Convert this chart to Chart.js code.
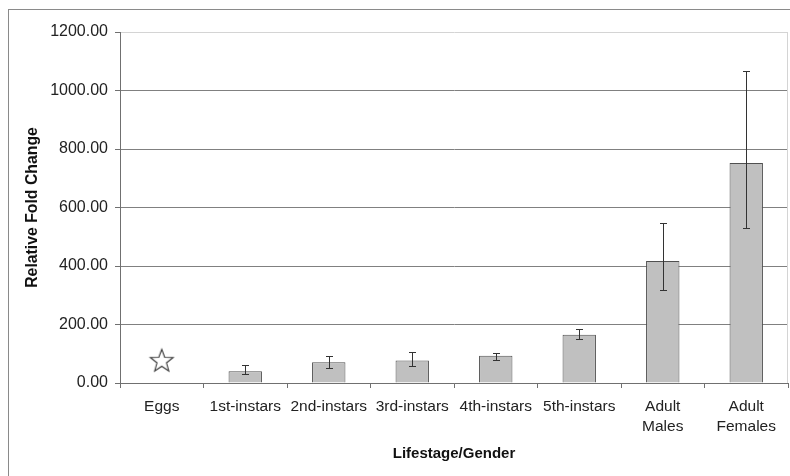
<!DOCTYPE html>
<html>
<head>
<meta charset="utf-8">
<script src="https://cdn.jsdelivr.net/npm/chart.js@4"></script>
<style>
html,body{margin:0;padding:0;background:#fff;}
#wrap{position:relative;width:790px;height:476px;}
</style>
</head>
<body>
<div id="wrap"><canvas id="c" width="790" height="476"></canvas></div>
<script>
const categories = ['Eggs', '1st-instars', '2nd-instars', '3rd-instars', '4th-instars', '5th-instars', ['Adult', 'Males'], ['Adult', 'Females']];
const foldChange = [null, 40, 71, 77, 93, 165, 417, 752];
const errHigh = [null, 61, 93, 105, 101, 186, 547, 1068];
const errLow = [null, 30, 50, 59, 80, 149, 319, 529];
const eggsMarker = [76, null, null, null, null, null, null, null];
const yTicks = [0, 200, 400, 600, 800, 1000, 1200];

const FONT = '"Liberation Sans", Arial, sans-serif';

// star marker image
const star = document.createElement('canvas');
star.width = 28; star.height = 28;
(function(){
  const g = star.getContext('2d');
  const cx = 14, cy = 14.5, R = 12, r = 5;
  g.beginPath();
  for (let i = 0; i < 10; i++) {
    const a = -Math.PI / 2 + i * Math.PI / 5;
    const rad = i % 2 === 0 ? R : r;
    const x = cx + rad * Math.cos(a), y = cy + rad * Math.sin(a);
    if (i === 0) g.moveTo(x, y); else g.lineTo(x, y);
  }
  g.closePath();
  g.fillStyle = '#ffffff';
  g.fill();
  g.strokeStyle = '#333333';
  g.lineWidth = 1.1;
  g.stroke();
})();

const framePlugin = {
  id: 'frame',
  beforeDraw(chart) {
    const ctx = chart.ctx;
    ctx.save();
    ctx.fillStyle = '#ffffff';
    ctx.fillRect(0, 0, chart.width, chart.height);
    ctx.strokeStyle = '#8a8a8a';
    ctx.lineWidth = 1;
    ctx.strokeRect(8.5, 9.5, 900, 600);
    ctx.restore();
  },
  afterDraw(chart) {
    const ctx = chart.ctx, a = chart.chartArea;
    ctx.save();
    ctx.strokeStyle = '#d4d4d4';
    ctx.lineWidth = 1;
    ctx.beginPath();
    ctx.moveTo(a.right - 0.5, a.top);
    ctx.lineTo(a.right - 0.5, a.bottom);
    ctx.stroke();
    ctx.restore();
  }
};

const errorBarPlugin = {
  id: 'errbars',
  afterDatasetsDraw(chart) {
    const ctx = chart.ctx;
    const meta = chart.getDatasetMeta(0);
    const y = chart.scales.y;
    ctx.save();
    ctx.strokeStyle = '#333333';
    ctx.lineWidth = 1;
    meta.data.forEach((bar, i) => {
      if (errHigh[i] == null || foldChange[i] == null) return;
      const x = Math.round(bar.x) + 0.5;
      const yh = Math.round(y.getPixelForValue(errHigh[i])) + 0.5;
      const yl = Math.round(y.getPixelForValue(errLow[i])) + 0.5;
      ctx.beginPath();
      ctx.moveTo(x, yh); ctx.lineTo(x, yl);
      ctx.moveTo(x - 3.5, yh); ctx.lineTo(x + 3.5, yh);
      ctx.moveTo(x - 3.5, yl); ctx.lineTo(x + 3.5, yl);
      ctx.stroke();
    });
    ctx.restore();
  }
};

new Chart(document.getElementById('c'), {
  type: 'bar',
  data: {
    labels: categories,
    datasets: [
      {
        type: 'bar',
        data: foldChange,
        backgroundColor: '#c0c0c0',
        borderColor: '#505050',
        borderWidth: 1,
        borderSkipped: 'bottom',
        barPercentage: 0.4,
        categoryPercentage: 1.0,
        order: 2
      },
      {
        type: 'line',
        data: eggsMarker,
        showLine: false,
        pointStyle: star,
        pointRadius: 12,
        clip: false,
        order: 1
      }
    ]
  },
  options: {
    responsive: false,
    animation: false,
    devicePixelRatio: 1,
    layout: { autoPadding: false, padding: { left: 0, top: 32, right: 2, bottom: 0 } },
    plugins: {
      legend: { display: false },
      tooltip: { enabled: false }
    },
    scales: {
      x: {
        offset: true,
        afterFit(s) { s.height = 93; s.paddingLeft = 0; s.paddingRight = 0; },
        grid: {
          offset: true,
          drawOnChartArea: false,
          drawTicks: true,
          tickLength: 5,
          color: '#707070'
        },
        border: { color: '#707070', width: 1 },
        ticks: {
          color: '#222222',
          font: { family: FONT, size: 15.5, lineHeight: '20px' },
          padding: 9,
          maxRotation: 0,
          autoSkip: false
        },
        title: {
          display: true,
          text: 'Lifestage/Gender',
          color: '#111111',
          font: { family: FONT, size: 15, weight: 'bold' },
          padding: { top: 0, bottom: 13 }
        }
      },
      y: {
        min: 0,
        max: 1200,
        afterFit(s) { s.width = 120; s.paddingTop = 0; s.paddingBottom = 0; },
        afterBuildTicks(s) { s.ticks = yTicks.map(v => ({ value: v })); },
        grid: {
          color: (c) => (c.tick && c.tick.value === 1200 ? '#d4d4d4' : '#808080'),
          tickColor: '#707070',
          drawTicks: true,
          tickLength: 5,
          lineWidth: 1
        },
        border: { color: '#707070', width: 1 },
        ticks: {
          color: '#222222',
          font: { family: FONT, size: 16 },
          padding: 7,
          callback: (v) => Number(v).toFixed(2)
        },
        title: {
          display: true,
          text: 'Relative Fold Change',
          color: '#111111',
          font: { family: FONT, size: 15.8, weight: 'bold' },
          padding: { top: 23, bottom: 0 }
        }
      }
    }
  },
  plugins: [framePlugin, errorBarPlugin]
});
</script>
</body>
</html>
